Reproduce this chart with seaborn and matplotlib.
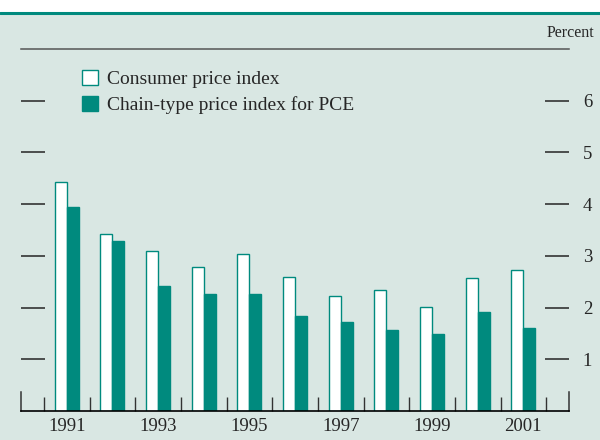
import pandas as pd
import matplotlib
matplotlib.use("Agg")
import matplotlib.pyplot as plt
import seaborn as sns
from matplotlib.patches import Rectangle
from matplotlib.lines import Line2D

# data (percent change)
years = [1991, 1992, 1993, 1994, 1995, 1996, 1997, 1998, 1999, 2000, 2001]
cpi = [4.43, 3.42, 3.09, 2.78, 3.03, 2.60, 2.22, 2.34, 2.02, 2.57, 2.72]
pce = [3.94, 3.29, 2.41, 2.27, 2.27, 1.83, 1.72, 1.57, 1.49, 1.92, 1.61]
series_names = ["Consumer price index", "Chain-type price index for PCE"]
year_labels = ["1991", "", "1993", "", "1995", "", "1997", "", "1999", "", "2001"]
y_ticks = [1, 2, 3, 4, 5, 6]

teal = "#008a7e"
panel = "#d9e7e3"
dark = "#333333"

df = pd.DataFrame({
    "year": [str(y) for y in years] * 2,
    "value": cpi + pce,
    "series": [series_names[0]] * len(years) + [series_names[1]] * len(years),
})

sns.set_style("white")
plt.rcParams["font.family"] = ["Liberation Serif", "DejaVu Serif"]

fig = plt.figure(figsize=(6, 4.4), dpi=100, facecolor="white")
# shaded panel and teal rule at top
fig.patches.append(Rectangle((0, 0), 1, 1 - 13 / 440, transform=fig.transFigure,
                             facecolor=panel, edgecolor="none", zorder=-10))
fig.lines.append(Line2D([0, 1], [1 - 13 / 440] * 2, transform=fig.transFigure,
                        color=teal, lw=2.2))

ax = fig.add_axes([21 / 600, 29 / 440, 548 / 600, 362 / 440])
ax.set_facecolor("none")

sns.barplot(data=df, x="year", y="value", hue="series", hue_order=series_names,
            palette=["white", teal], edgecolor=teal, linewidth=1.0,
            width=0.52, saturation=1, ax=ax)

ax.set_xlim(-1, 11)
ax.set_ylim(0, 7)
ax.set_xlabel("")
ax.set_ylabel("")

# spines
for s in ["left", "right"]:
    ax.spines[s].set_visible(True)
    ax.spines[s].set_bounds(0, 0.36)
    ax.spines[s].set_color(dark)
    ax.spines[s].set_linewidth(1.1)
ax.spines["bottom"].set_color("black")
ax.spines["bottom"].set_linewidth(1.2)
ax.spines["top"].set_visible(True)
ax.spines["top"].set_color("#555555")
ax.spines["top"].set_linewidth(1.1)

# x ticks: labels on categories, marks between years
ax.set_xticks(range(len(years)))
ax.set_xticklabels(year_labels, fontsize=13.5)
ax.set_xticks([i - 0.5 for i in range(len(years) + 1)], minor=True)
ax.tick_params(axis="x", which="major", length=0, pad=5)
ax.tick_params(axis="x", which="minor", direction="in", length=10,
               width=1.0, color=dark, bottom=True)

# y ticks: marks on both sides, labels on the right
ax.set_yticks(y_ticks)
ax.set_yticklabels([str(v) for v in y_ticks], fontsize=13.5)
ax.tick_params(axis="y", which="major", direction="in", length=17, width=1.2,
               color="#333333", left=True, right=True, labelleft=False,
               labelright=True, pad=10)

fig.text(594 / 600, 1 - 33 / 440, "Percent", ha="right", va="center", fontsize=11.5)

ax.legend(loc="upper left", bbox_to_anchor=(82 / 600, 1 - 70 / 440),
          bbox_transform=fig.transFigure, frameon=False, fontsize=14,
          handlelength=0.8, handleheight=0.8, handletextpad=0.5,
          labelspacing=0.4, borderpad=0, borderaxespad=0)

fig.savefig("out.png", dpi=100, facecolor="white")
